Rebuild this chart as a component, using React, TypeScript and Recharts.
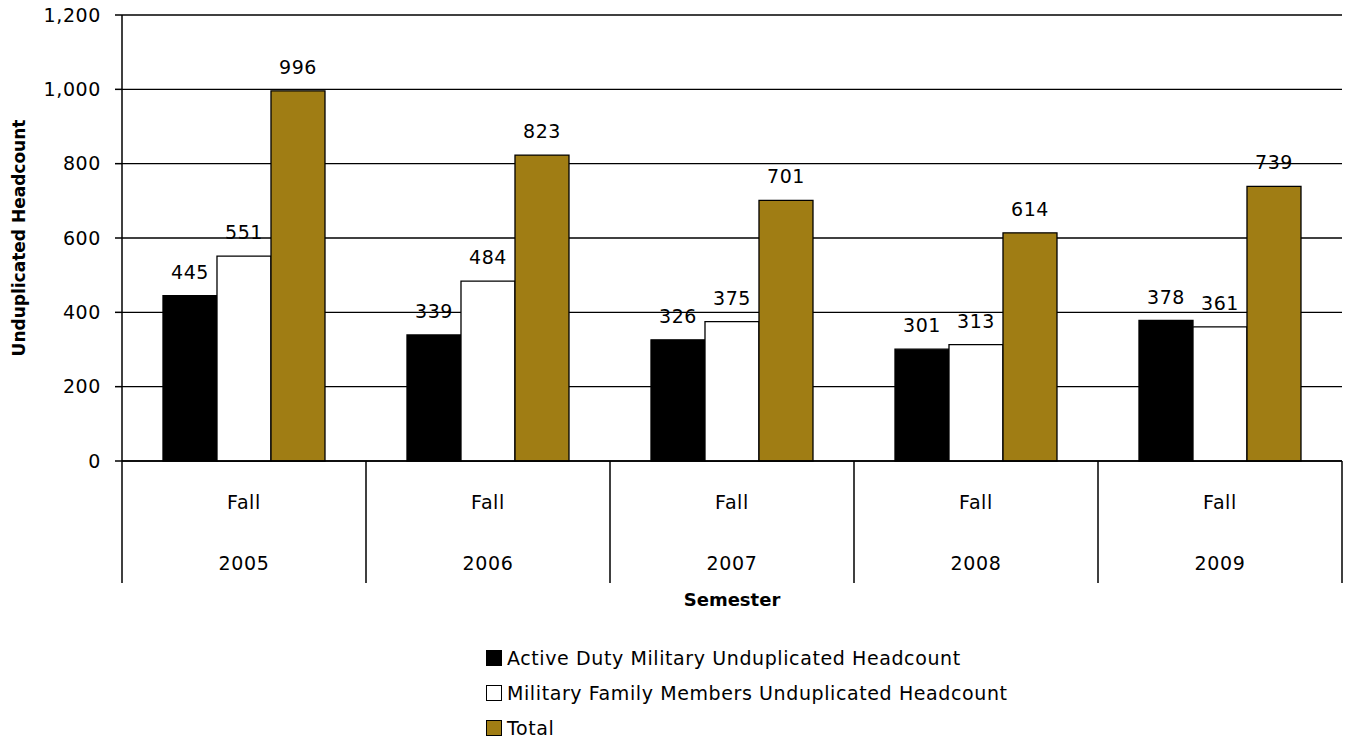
import React from 'react';
import { BarChart, Bar, XAxis, YAxis, CartesianGrid, Legend, LabelList } from 'recharts';

const semesters = ['Fall', 'Fall', 'Fall', 'Fall', 'Fall'];
const years = ['2005', '2006', '2007', '2008', '2009'];
const activeDuty = [445, 339, 326, 301, 378];
const familyMembers = [551, 484, 375, 313, 361];
const totals = [996, 823, 701, 614, 739];
const yTicks = [0, 200, 400, 600, 800, 1000, 1200];

const FONT = '"DejaVu Sans", sans-serif';
const GOLD = '#A07D14';
const BAND = 244;

const data = years.map((year, i) => ({
  key: `${semesters[i]} ${year}`,
  active: activeDuty[i],
  family: familyMembers[i],
  total: totals[i],
}));

const textStyle = { fontFamily: FONT, fontSize: 19, fill: '#000', letterSpacing: 0.6 };
const boldStyle = { fontFamily: FONT, fontSize: 17, fontWeight: 'bold', fill: '#000' };

function SemesterTick(props: any) {
  const { x, y, payload } = props;
  const i = payload.index;
  const left = x - BAND / 2;
  const right = x + BAND / 2;
  return (
    <g>
      <line x1={left} x2={left} y1={y} y2={y + 122} stroke="#000" strokeWidth={1.5} />
      {i === years.length - 1 && (
        <line x1={right} x2={right} y1={y} y2={y + 122} stroke="#000" strokeWidth={1.5} />
      )}
      <text x={x} y={y + 41} textAnchor="middle" dominantBaseline="central" style={textStyle}>
        {semesters[i]}
      </text>
      <text x={x} y={y + 102} textAnchor="middle" dominantBaseline="central" style={textStyle}>
        {years[i]}
      </text>
    </g>
  );
}

function LegendList(props: any) {
  const { payload = [] } = props;
  return (
    <div style={{ fontFamily: FONT, fontSize: 19, letterSpacing: 0.6, color: '#000' }}>
      {payload.map((entry: any) => (
        <div key={entry.value} style={{ display: 'flex', alignItems: 'center', height: 35 }}>
          <span
            style={{
              display: 'inline-block',
              width: 14,
              height: 14,
              background: entry.color,
              border: '1.5px solid #000',
              marginRight: 5,
            }}
          />
          <span>{entry.value}</span>
        </div>
      ))}
    </div>
  );
}

export default function App() {
  return (
    <div style={{ position: 'absolute', left: 0, top: 0, width: 1348, height: 744, background: '#fff' }}>
      <BarChart
        width={1348}
        height={744}
        data={data}
        margin={{ top: 15, right: 6, left: 0, bottom: 0 }}
        barCategoryGap="16.8%"
        barGap={0}
      >
        <CartesianGrid vertical={false} stroke="#000" strokeWidth={1.4} />
        <YAxis
          width={122}
          domain={[0, 1200]}
          ticks={yTicks}
          interval={0}
          tickFormatter={(v: number) => v.toLocaleString('en-US')}
          tick={textStyle}
          tickSize={7}
          tickMargin={14}
          axisLine={{ stroke: '#000', strokeWidth: 1.5 }}
          tickLine={{ stroke: '#000', strokeWidth: 1.5 }}
          label={{
            value: 'Unduplicated Headcount',
            angle: -90,
            position: 'insideLeft',
            offset: 19,
            style: { ...boldStyle, textAnchor: 'middle' },
          }}
        />
        <XAxis
          dataKey="key"
          height={283}
          interval={0}
          tick={<SemesterTick />}
          tickSize={0}
          tickMargin={0}
          tickLine={false}
          axisLine={{ stroke: '#000', strokeWidth: 1.5 }}
          label={{
            value: 'Semester',
            position: 'insideTop',
            offset: 132,
            style: { ...boldStyle, fontSize: 18 },
          }}
        />
        <Legend
          layout="horizontal"
          verticalAlign="middle"
          align="center"
          content={<LegendList />}
          wrapperStyle={{ left: 486, top: 640, width: 'auto' }}
        />
        <Bar
          dataKey="active"
          name="Active Duty Military Unduplicated Headcount"
          fill="#000"
          stroke="#000"
          strokeWidth={1.3}
          isAnimationActive={false}
        >
          <LabelList dataKey="active" position="top" offset={17} style={textStyle} />
        </Bar>
        <Bar
          dataKey="family"
          name="Military Family Members Unduplicated Headcount"
          fill="#fff"
          stroke="#000"
          strokeWidth={1.3}
          isAnimationActive={false}
        >
          <LabelList dataKey="family" position="top" offset={17} style={textStyle} />
        </Bar>
        <Bar
          dataKey="total"
          name="Total"
          fill={GOLD}
          stroke="#000"
          strokeWidth={1.3}
          isAnimationActive={false}
        >
          <LabelList dataKey="total" position="top" offset={17} style={textStyle} />
        </Bar>
      </BarChart>
    </div>
  );
}
